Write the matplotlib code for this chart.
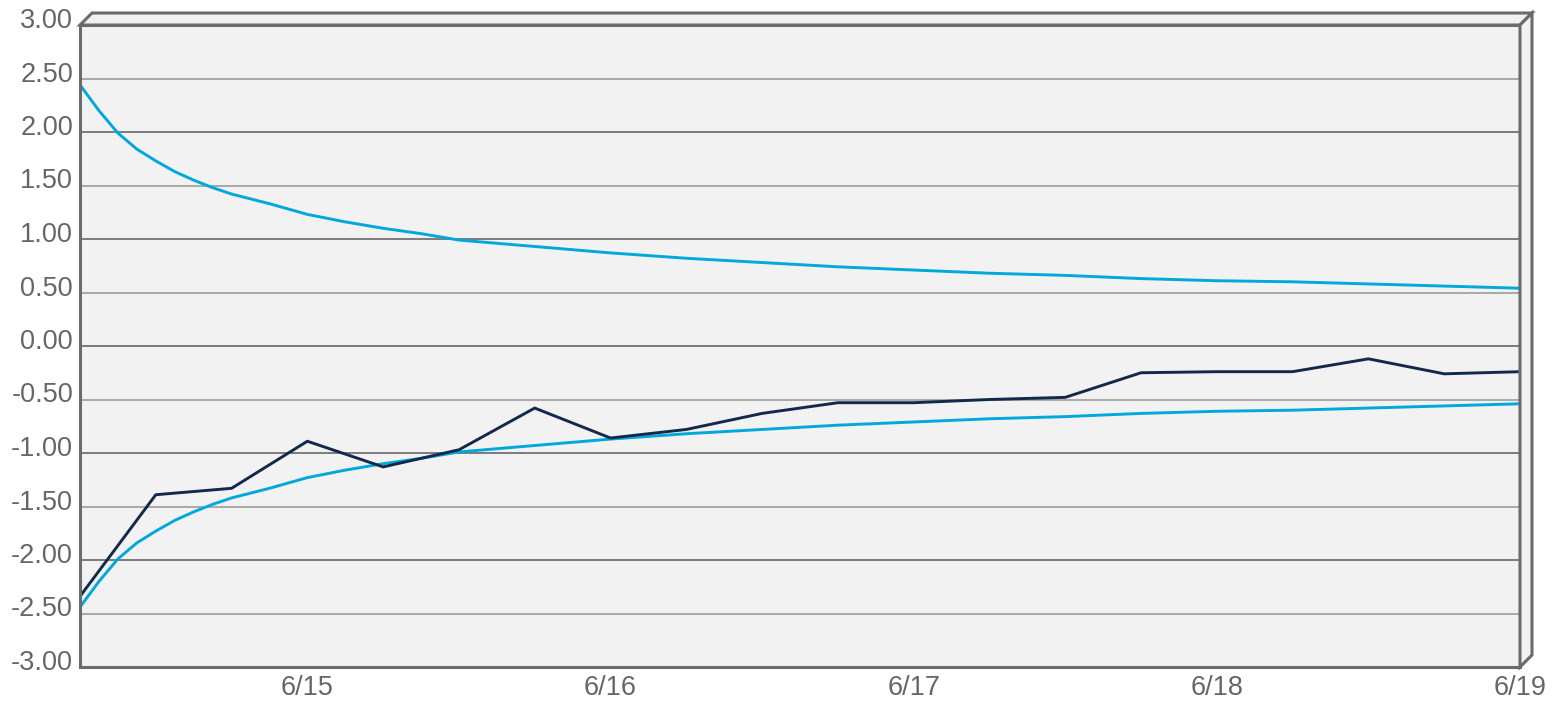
import numpy as np
import pandas as pd
import matplotlib
matplotlib.use("Agg")
import matplotlib.pyplot as plt
import matplotlib.dates as mdates
import matplotlib.transforms as mtransforms
from matplotlib.patches import Polygon

plt.rcParams['font.family'] = ['Liberation Sans', 'DejaVu Sans']

start = pd.Timestamp('2024-06-14 06:00')

# main series, one point every 6 hours
obs_hours = [0, 6, 12, 18, 24, 30, 36, 42, 48, 54, 60, 66, 72, 78, 84, 90, 96, 102, 108, 114]
obs_vals = [-2.34, -1.39, -1.33, -0.89, -1.13, -0.97, -0.58, -0.86, -0.78, -0.63,
            -0.53, -0.53, -0.50, -0.48, -0.25, -0.24, -0.24, -0.12, -0.26, -0.24]

# confidence band (upper / lower)
band_hours = [0, 1.5, 3, 4.5, 6, 7.5, 9, 10.5, 12, 15, 18, 21, 24, 27, 30, 36, 42, 48, 54, 60,
              66, 72, 78, 84, 90, 96, 102, 108, 114]
band_upper = [2.44, 2.20, 1.99, 1.84, 1.73, 1.63, 1.55, 1.48, 1.42, 1.33, 1.23, 1.16, 1.10, 1.05,
              0.99, 0.93, 0.87, 0.82, 0.78, 0.74, 0.71, 0.68, 0.66, 0.63, 0.61, 0.60,
              0.58, 0.56, 0.54]
band_lower = [-2.44, -2.20, -1.99, -1.84, -1.73, -1.63, -1.55, -1.48, -1.42, -1.33, -1.23, -1.16, -1.10, -1.05,
              -0.99, -0.93, -0.87, -0.82, -0.78, -0.74, -0.71, -0.68, -0.66, -0.63, -0.61, -0.60,
              -0.58, -0.56, -0.54]

yticks = [-3, -2.5, -2, -1.5, -1, -0.5, 0, 0.5, 1, 1.5, 2, 2.5, 3]

obs_t = [start + pd.Timedelta(hours=h) for h in obs_hours]
band_t = [start + pd.Timedelta(hours=h) for h in band_hours]

W, H = 1555, 703
fig = plt.figure(figsize=(W / 100, H / 100), dpi=100)
L, R, T, B = 80, 1520, 25, 667
ax = fig.add_axes([L / W, 1 - B / H, (R - L) / W, (B - T) / H])
ax.set_facecolor('#f2f2f2')

frame_c = '#6b6b6b'
grid_dark = '#727272'
grid_light = '#a3a3a3'

for v in yticks[1:-1]:
    c = grid_dark if float(v).is_integer() else grid_light
    ax.axhline(v, color=c, lw=1.3, zorder=1)

ax.plot(band_t, band_upper, color='#00a8dc', lw=2.1, zorder=3)
ax.plot(band_t, band_lower, color='#00a8dc', lw=2.1, zorder=3)
ax.plot(obs_t, obs_vals, color='#13294b', lw=2.1, zorder=4)

ax.set_ylim(-3, 3)
ax.set_xlim(obs_t[0], obs_t[-1])
ax.set_yticks(yticks)
ax.set_yticklabels(['%.2f' % v for v in yticks])
ax.xaxis.set_major_locator(mdates.DayLocator())
ax.xaxis.set_major_formatter(
    plt.FuncFormatter(lambda x, p: '%d/%d' % (mdates.num2date(x).month, mdates.num2date(x).day)))
ax.tick_params(length=0, labelsize=19.5, labelcolor='#666666')
ax.tick_params(axis='y', pad=5)
ax.tick_params(axis='x', pad=6)

# y labels sit a little above their grid lines
shift = mtransforms.ScaledTranslation(0, 7 / 100, fig.dpi_scale_trans)
for lab in ax.get_yticklabels():
    lab.set_transform(lab.get_transform() + shift)

for s in ax.spines.values():
    s.set_color(frame_c)
    s.set_linewidth(2.2)
    s.set_zorder(6)

# pseudo 3d box: top and right faces
d = 12
top = [(L, T), (L + d, T - d), (R + d, T - d), (R, T)]
side = [(R, T), (R + d, T - d), (R + d, B - d), (R, B)]
for pts in (top, side):
    fpts = [(x / W, 1 - y / H) for x, y in pts]
    fig.add_artist(Polygon(fpts, closed=True, transform=fig.transFigure,
                           facecolor='#f2f2f2', edgecolor=frame_c, lw=2.2,
                           joinstyle='miter'))

fig.savefig('out.png', dpi=100)
